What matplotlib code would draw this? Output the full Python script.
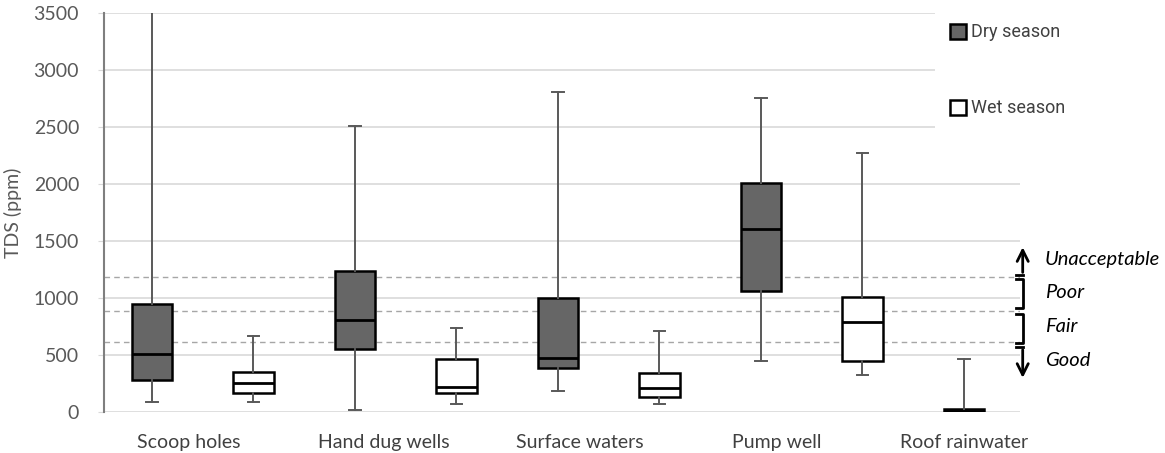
import matplotlib
matplotlib.use('Agg')
import numpy as np
import matplotlib.pyplot as plt
from matplotlib.patches import Patch

plt.rcParams['font.family'] = ['Lato', 'DejaVu Sans']

# data (TDS, ppm)
categories = ['Scoop holes', 'Hand dug wells', 'Surface waters', 'Pump well', 'Roof rainwater']
dry_low  = [88, 18, 184, 447, 0]
dry_q1   = [281, 555, 383, 1058, 0]
dry_med  = [506, 807, 476, 1608, 12]
dry_q3   = [947, 1239, 1003, 2006, 25]
dry_high = [3600, 2511, 2804, 2754, 465]

wet_low  = [88, 68, 68, 322]
wet_q1   = [169, 164, 134, 445]
wet_med  = [254, 222, 213, 789]
wet_q3   = [351, 462, 339, 1006]
wet_high = [667, 739, 710, 2269]

class_limits = [1180, 885, 615]
class_names = ['Unacceptable', 'Poor', 'Fair', 'Good']

dry_pos = np.arange(5)
wet_pos = np.arange(4) + 0.5
label_pos = [0.18, 1.14, 2.11, 3.08, 4.0]

def stats(lo, q1, med, q3, hi):
    return [dict(whislo=a, q1=b, med=c, q3=d, whishi=e, fliers=[])
            for a, b, c, d, e in zip(lo, q1, med, q3, hi)]

fig = plt.figure(figsize=(11.65, 4.53), dpi=100)
ax = fig.add_axes([0.0893, 0.0905, 0.7862, 0.8808])

for y in range(0, 3501, 500):
    ax.axhline(y, color='#d9d9d9', lw=1.2, zorder=0)
for y in class_limits:
    ax.axhline(y, color='#a6a6a6', lw=1, dashes=(4, 3), zorder=0.5)

common = dict(widths=0.2, showfliers=False, patch_artist=True,
              whiskerprops=dict(color='#595959', lw=1.4),
              capprops=dict(color='#595959', lw=1.4),
              medianprops=dict(color='black', lw=2))
b1 = ax.bxp(stats(dry_low, dry_q1, dry_med, dry_q3, dry_high), positions=dry_pos,
            boxprops=dict(facecolor='#666666', edgecolor='black', lw=1.8), **common)
b2 = ax.bxp(stats(wet_low, wet_q1, wet_med, wet_q3, wet_high), positions=wet_pos,
            boxprops=dict(facecolor='white', edgecolor='black', lw=1.8), **common)
for b in (b1, b2):
    for c in b['caps']:
        m = c.get_xdata().mean()
        c.set_xdata([m - 0.028, m + 0.028])

ax.set_xlim(-0.236, 4.276)
ax.set_ylim(0, 3500)
ax.set_yticks(range(0, 3501, 500))
ax.set_xticks(label_pos)
ax.set_xticklabels(categories)
ax.tick_params(axis='x', length=0, pad=16, labelsize=14, labelcolor='#404040')
ax.tick_params(axis='y', length=4, color='#d9d9d9', labelsize=14, labelcolor='#595959', pad=14)
for s in ['top', 'right', 'bottom']:
    ax.spines[s].set_visible(False)
ax.spines['left'].set_color('#7f7f7f')
ax.spines['left'].set_linewidth(1.5)
ax.set_ylabel('TDS (ppm)', fontsize=14, color='#595959', labelpad=8)

# water quality classes on the right
tr = ax.get_yaxis_transform()
xb, xt = 1.003, 0.996
kw = dict(color='black', lw=2, transform=tr, clip_on=False)
arrow = dict(arrowstyle='->', color='black', lw=2, mutation_scale=20)
ax.annotate('', xy=(xb, 1470), xytext=(xb, 1200), xycoords=tr, arrowprops=arrow)
ax.plot([xt, xb], [1200, 1200], **kw)
ax.plot([xt, xb, xb, xt], [1166, 1166, 912, 912], **kw)
ax.plot([xt, xb, xb, xt], [859, 859, 605, 605], **kw)
ax.plot([xt, xb], [570, 570], **kw)
ax.annotate('', xy=(xb, 275), xytext=(xb, 570), xycoords=tr, arrowprops=arrow)
for name, y in zip(class_names, [1342, 1044, 746, 456]):
    ax.text(1.027, y, name, transform=tr, style='italic', fontsize=14.5,
            va='center', ha='left', clip_on=False)

handles = [Patch(facecolor='#666666', edgecolor='black', lw=1.8),
           Patch(facecolor='white', edgecolor='black', lw=1.8)]
leg = fig.legend(handles, ['Dry season', 'Wet season'], loc='upper left',
                 bbox_to_anchor=(0.795, 1.0), frameon=True, fancybox=False,
                 handlelength=0.9, handleheight=0.9, handletextpad=0.3,
                 labelspacing=3.2, borderpad=0.8,
                 prop={'family': ['Roboto', 'DejaVu Sans'], 'size': 13})
leg.get_frame().set_edgecolor('none')
leg.get_frame().set_facecolor('white')
leg.get_frame().set_alpha(1)
for t in leg.get_texts():
    t.set_color('#404040')

fig.savefig('out.png', dpi=100)
